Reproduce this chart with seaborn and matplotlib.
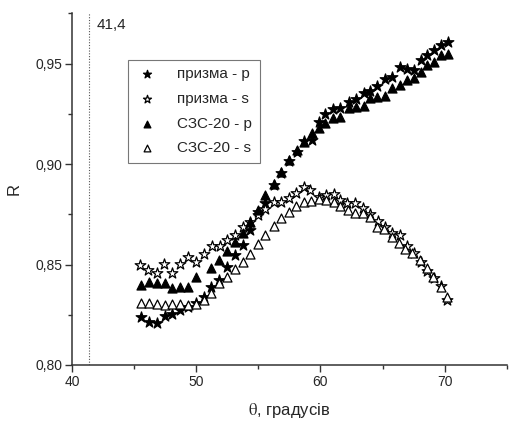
import matplotlib
matplotlib.use("Agg")
import matplotlib.pyplot as plt
import seaborn as sns
import pandas as pd
from matplotlib.ticker import FuncFormatter, MultipleLocator

# ---- data ----
theta_prism_p = [45.56, 46.21, 46.83, 47.45, 48.09, 48.71, 49.35, 50.0, 50.6, 51.2,
                 51.85, 52.47, 53.12, 53.73, 54.35, 54.97, 55.56, 56.23, 56.85, 57.5,
                 58.12, 58.65, 59.33, 59.87, 60.4, 61.02, 61.61, 62.28, 62.88, 63.49,
                 64.03, 64.57, 65.19, 65.78, 66.4, 66.94, 67.53, 68.12, 68.6, 69.14,
                 69.68, 70.27]
r_prism_p = [0.824, 0.8215, 0.8207, 0.8245, 0.8252, 0.8273, 0.829, 0.8307, 0.834, 0.8386,
             0.8423, 0.8486, 0.8547, 0.8597, 0.8671, 0.8762, 0.8804, 0.8895, 0.8953, 0.9016,
             0.906, 0.9115, 0.9119, 0.921, 0.9248, 0.9276, 0.9281, 0.9309, 0.9326, 0.9354,
             0.9362, 0.9387, 0.9421, 0.9434, 0.9483, 0.9475, 0.947, 0.952, 0.9542, 0.9566,
             0.9591, 0.9608]

theta_prism_s = [45.48, 46.15, 46.83, 47.44, 48.09, 48.71, 49.33, 49.98, 50.59, 51.26,
                 51.88, 52.48, 53.12, 53.73, 54.35, 54.97, 55.56, 56.23, 56.85, 57.44,
                 58.04, 58.65, 59.19, 59.87, 60.48, 61.08, 61.61, 62.15, 62.82, 63.45,
                 64.03, 64.6, 65.2, 65.8, 66.4, 66.95, 67.5, 68.1, 68.6, 69.15,
                 69.7, 70.2]
r_prism_s = [0.8497, 0.8472, 0.8459, 0.8502, 0.8459, 0.8502, 0.8536, 0.8514, 0.8552, 0.8592,
             0.8592, 0.8622, 0.8646, 0.8688, 0.871, 0.8745, 0.8774, 0.8812, 0.8812, 0.8829,
             0.8857, 0.8887, 0.8873, 0.8834, 0.8845, 0.885, 0.882, 0.8807, 0.8804, 0.878,
             0.8752, 0.8715, 0.8685, 0.8655, 0.8648, 0.859, 0.8555, 0.851, 0.847, 0.8435,
             0.8395, 0.8325]

theta_szs_p = [45.56, 46.21, 46.83, 47.45, 48.09, 48.71, 49.35, 50.0, 51.21, 51.85,
               52.47, 53.12, 53.73, 54.35, 54.97, 55.56, 56.23, 56.85, 57.5, 58.12,
               58.65, 59.33, 59.87, 60.4, 61.02, 61.61, 62.28, 62.88, 63.49, 64.03,
               64.57, 65.19, 65.78, 66.4, 66.94, 67.53, 68.12, 68.6, 69.14, 69.68,
               70.27]
r_szs_p = [0.8398, 0.8414, 0.8409, 0.8409, 0.8381, 0.8389, 0.8386, 0.8436, 0.8481, 0.8522,
           0.8568, 0.8613, 0.8655, 0.8713, 0.8771, 0.8845, 0.8903, 0.896, 0.902, 0.9069,
           0.911, 0.9152, 0.9177, 0.9202, 0.9227, 0.9235, 0.9277, 0.9282, 0.9289, 0.9327,
           0.9335, 0.9338, 0.9376, 0.9393, 0.9417, 0.9426, 0.9459, 0.9492, 0.9509, 0.9542,
           0.9547]

theta_szs_s = [45.56, 46.21, 46.83, 47.45, 48.09, 48.71, 49.35, 50.0, 50.6, 51.2,
               51.85, 52.47, 53.12, 53.73, 54.35, 54.97, 55.56, 56.23, 56.85, 57.44,
               58.04, 58.65, 59.27, 59.87, 60.48, 61.08, 61.61, 62.23, 62.82, 63.44,
               64.03, 64.57, 65.1, 65.78, 66.32, 66.85, 67.4, 68.0, 68.6, 69.1,
               69.68, 70.2]
r_szs_s = [0.831, 0.8307, 0.8303, 0.8298, 0.8303, 0.8303, 0.8298, 0.8303, 0.8323, 0.8356,
           0.8406, 0.8439, 0.8476, 0.8514, 0.8552, 0.8602, 0.8646, 0.8691, 0.8729, 0.8762,
           0.8791, 0.8812, 0.8817, 0.8824, 0.882, 0.8812, 0.8791, 0.8771, 0.8754, 0.8754,
           0.8737, 0.8688, 0.8675, 0.8635, 0.8605, 0.8575, 0.8558, 0.8522, 0.8481, 0.8439,
           0.8386, 0.8337]

labels = ["призма - p", "призма - s", "СЗС-20 - p", "СЗС-20 - s"]
critical_angle = 41.4
critical_label = "41,4"
x_ticks = [40, 50, 60, 70]
y_ticks = [0.80, 0.85, 0.90, 0.95]

# ---- style ----
sns.set_theme(style="ticks")
plt.rcParams["font.family"] = ["Liberation Sans", "DejaVu Sans"]
plt.rcParams["mathtext.fontset"] = "stix"

fig = plt.figure(figsize=(5.09, 4.25), dpi=100)
ax = fig.add_axes([0.1415, 0.1412, 0.854, 0.8275])

series = [
    (theta_prism_p, r_prism_p, "*", "black", 65),
    (theta_prism_s, r_prism_s, "*", "white", 65),
    (theta_szs_p, r_szs_p, "^", "black", 42),
    (theta_szs_s, r_szs_s, "^", "white", 42),
]
for (th, r, mk, fc, size), lab in zip(series, labels):
    df = pd.DataFrame({"theta": th, "R": r})
    sns.scatterplot(data=df, x="theta", y="R", ax=ax, marker=mk, s=size,
                    facecolor=fc, edgecolor="black", linewidth=0.9, label=lab,
                    zorder=3)

ax.axvline(critical_angle, color="#555555", linestyle=(0, (1, 1.5)), linewidth=0.8)
ax.text(42.0, 0.969, critical_label, fontsize=11, va="center", ha="left")

ax.set_xlim(40, 75)
ax.set_ylim(0.80, 0.975)
ax.set_xticks(x_ticks)
ax.set_yticks(y_ticks)
ax.xaxis.set_minor_locator(MultipleLocator(5))
ax.yaxis.set_minor_locator(MultipleLocator(0.025))
ax.xaxis.set_major_formatter(FuncFormatter(lambda v, p: f"{v:.0f}"))
ax.yaxis.set_major_formatter(FuncFormatter(lambda v, p: f"{v:.2f}".replace(".", ",")))
ax.tick_params(which="major", direction="out", length=5, width=1, labelsize=10,
               color="#333333", pad=2)
ax.tick_params(which="minor", direction="out", length=3, width=1, color="#333333")
for sp in ["left", "bottom"]:
    ax.spines[sp].set_color("#333333")
    ax.spines[sp].set_linewidth(1.1)
sns.despine(ax=ax)

ax.set_xlabel(r"$\mathrm{\theta}$, градусів", fontsize=12, labelpad=9)
ax.set_ylabel("R", fontsize=12, labelpad=10)

leg = ax.legend(loc="upper left", bbox_to_anchor=(0.129, 0.868), fontsize=11,
                frameon=True, fancybox=False, framealpha=1, edgecolor="#777777",
                handletextpad=1.2, labelspacing=0.7, borderpad=0.5,
                markerscale=0.75, handlelength=1.5, borderaxespad=0)
leg.get_frame().set_linewidth(0.8)

fig.savefig("out.png", dpi=100)
